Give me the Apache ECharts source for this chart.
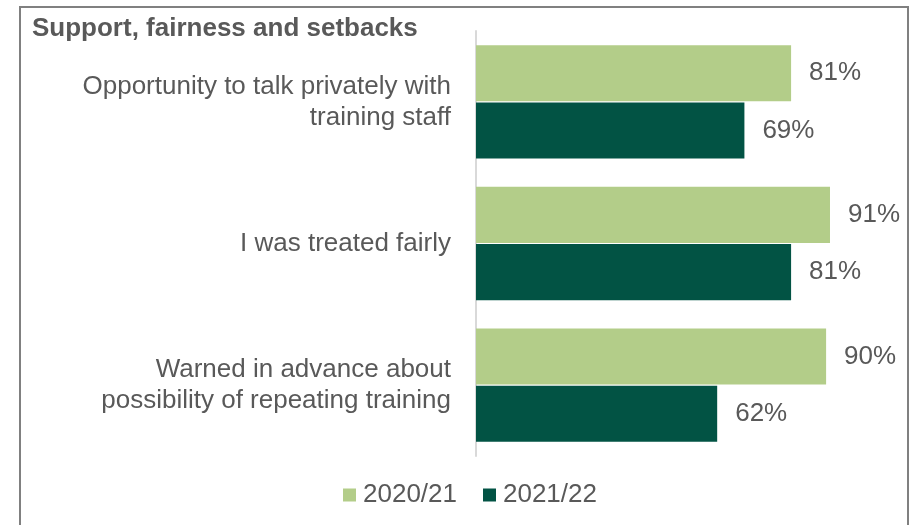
<!DOCTYPE html>
<html>
<head>
<meta charset="utf-8">
<script src="https://cdn.jsdelivr.net/npm/echarts@6/dist/echarts.min.js"></script>
<style>
  html, body { margin: 0; padding: 0; background: #fff; }
  #chart { width: 917px; height: 525px; }
</style>
</head>
<body>
<div id="chart"></div>
<script>
// Survey items, top to bottom
const categories = [
  'Opportunity to talk privately with\ntraining staff',
  'I was treated fairly',
  'Warned in advance about\npossibility of repeating training'
];
const seriesNames = ['2020/21', '2021/22'];
const values2020 = [81, 91, 90];
const values2021 = [69, 81, 62];

const font = '"Liberation Sans", Arial, sans-serif';
const textColor = '#595959';

const chart = echarts.init(document.getElementById('chart'), null, { renderer: 'canvas' });

const valueLabel = {
  show: true, position: 'right', distance: 18,
  formatter: '{c}%', fontFamily: font, fontSize: 26, color: textColor
};

chart.setOption({
  animation: false,
  backgroundColor: '#fff',
  title: {
    text: 'Support, fairness and setbacks',
    left: 27,
    top: 11,
    textStyle: { fontFamily: font, fontSize: 26, fontWeight: 'bold', color: textColor }
  },
  graphic: [{
    type: 'rect',
    shape: { x: 20, y: 7, width: 888, height: 540 },
    style: { fill: 'none', stroke: '#808080', lineWidth: 2 },
    silent: true
  }],
  legend: {
    data: seriesNames,
    top: 477,
    left: 338,
    itemWidth: 13,
    itemHeight: 13,
    itemGap: 26,
    icon: 'rect',
    textStyle: { fontFamily: font, fontSize: 26, color: textColor, padding: [0, 0, 0, 2] }
  },
  grid: { left: 476, right: 52, top: 31, bottom: 69, containLabel: false },
  xAxis: {
    type: 'value',
    min: 0,
    max: 100,
    show: false
  },
  yAxis: {
    type: 'category',
    data: categories,
    inverse: true,
    axisLine: { show: true, lineStyle: { color: '#d9d9d9', width: 2 } },
    axisTick: { show: false },
    axisLabel: {
      margin: 25,
      fontFamily: font,
      fontSize: 26,
      lineHeight: 31,
      color: textColor,
      align: 'right'
    }
  },
  series: [
    {
      name: seriesNames[0],
      type: 'bar',
      data: values2020,
      barCategoryGap: '20%',
      barGap: '2%',
      itemStyle: { color: '#b3cd89' },
      label: valueLabel
    },
    {
      name: seriesNames[1],
      type: 'bar',
      data: values2021,
      barCategoryGap: '20%',
      barGap: '2%',
      itemStyle: { color: '#025344' },
      label: valueLabel
    }
  ]
});
</script>
</body>
</html>
